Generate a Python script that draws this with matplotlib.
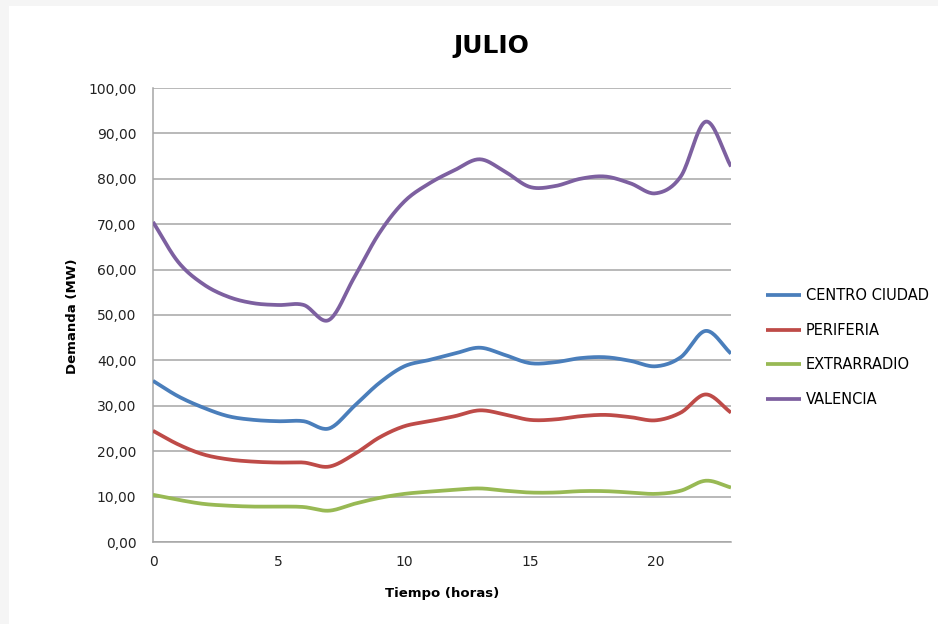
import numpy as np
import matplotlib
matplotlib.use("Agg")
import matplotlib.pyplot as plt
from matplotlib.patches import Rectangle
from matplotlib.ticker import FuncFormatter, MultipleLocator

plt.rcParams['font.family'] = ['DejaVu Sans']

hours = list(range(24))
centro = [35.5, 32.1, 29.6, 27.7, 26.9, 26.6, 26.6, 25.0, 29.9, 35.0, 38.7, 40.1,
          41.5, 42.8, 41.2, 39.4, 39.6, 40.5, 40.7, 39.9, 38.7, 40.7, 46.5, 41.5]
periferia = [24.5, 21.5, 19.3, 18.2, 17.7, 17.5, 17.5, 16.6, 19.3, 23.0, 25.5, 26.6,
             27.7, 29.0, 28.1, 26.9, 27.0, 27.7, 28.0, 27.5, 26.8, 28.5, 32.5, 28.5]
extrarradio = [10.4, 9.3, 8.4, 8.0, 7.8, 7.8, 7.7, 6.9, 8.4, 9.7, 10.6, 11.1,
               11.5, 11.8, 11.3, 10.9, 10.9, 11.2, 11.2, 10.9, 10.6, 11.3, 13.5, 12.0]
valencia = [70.5, 61.7, 56.8, 54.0, 52.6, 52.2, 52.2, 48.9, 58.2, 68.0, 75.0, 79.0,
            81.9, 84.3, 81.6, 78.2, 78.4, 80.0, 80.5, 79.0, 76.8, 80.5, 92.6, 82.7]

series_names = ["CENTRO CIUDAD", "PERIFERIA", "EXTRARRADIO", "VALENCIA"]
series_values = [centro, periferia, extrarradio, valencia]
colors = ["#4A7EBB", "#BE4B48", "#98B954", "#7D60A0"]

title = "JULIO"
xlabel = "Tiempo (horas)"
ylabel = "Demanda (MW)"


def smooth(x, y, n=20):
    """Catmull-Rom smoothing (like Excel smoothed lines)."""
    x = np.asarray(x, float)
    y = np.asarray(y, float)
    px = np.concatenate([[2 * x[0] - x[1]], x, [2 * x[-1] - x[-2]]])
    py = np.concatenate([[2 * y[0] - y[1]], y, [2 * y[-1] - y[-2]]])
    xs, ys = [], []
    t = np.linspace(0, 1, n, endpoint=False)
    for i in range(1, len(px) - 2):
        for p, out in ((px, xs), (py, ys)):
            p0, p1, p2, p3 = p[i - 1], p[i], p[i + 1], p[i + 2]
            v = 0.5 * ((2 * p1) + (-p0 + p2) * t + (2 * p0 - 5 * p1 + 4 * p2 - p3) * t ** 2
                       + (-p0 + 3 * p1 - 3 * p2 + p3) * t ** 3)
            out.extend(v)
    xs.append(x[-1])
    ys.append(y[-1])
    return np.array(xs), np.array(ys)


W, H = 938, 624
fig = plt.figure(figsize=(W / 100, H / 100), dpi=100, facecolor="#f5f5f5")
fig.patches.append(Rectangle((9 / W, 0), 1 - 9 / W, 1 - 6 / H, transform=fig.transFigure,
                             facecolor="white", edgecolor="none", zorder=-10))

ax = fig.add_axes([153 / W, 1 - 542 / H, 578 / W, 454 / H])
ax.set_facecolor("none")

for name, vals, c in zip(series_names, series_values, colors):
    sx, sy = smooth(hours, vals)
    ax.plot(sx, sy, color=c, lw=2.7, label=name, solid_capstyle="butt", zorder=3)

ax.set_xlim(0, 23)
ax.set_ylim(0, 100)
ax.xaxis.set_major_locator(MultipleLocator(5))
ax.yaxis.set_major_locator(MultipleLocator(10))
ax.yaxis.set_major_formatter(FuncFormatter(lambda v, p: f"{v:.2f}".replace(".", ",")))
ax.grid(axis="y", color="#a6a6a6", lw=1.1, zorder=1)
ax.set_axisbelow(True)
for s in ("top", "right"):
    ax.spines[s].set_visible(False)
for s in ("left", "bottom"):
    ax.spines[s].set_color("#a6a6a6")
    ax.spines[s].set_linewidth(1.1)
ax.tick_params(axis="y", length=0, pad=12, labelsize=10, labelcolor="#222222")
ax.tick_params(axis="x", length=0, pad=9, labelsize=10, labelcolor="#222222")

fig.text(491 / W, 1 - 46 / H, title, ha="center", va="center", fontsize=18, fontweight="bold")
fig.text(442 / W, 1 - 593 / H, xlabel, ha="center", va="center", fontsize=9.5, fontweight="bold")
fig.text(72 / W, 1 - 316 / H, ylabel, ha="center", va="center", fontsize=9.5,
         fontweight="bold", rotation=90)

fig.legend(loc="center left", bbox_to_anchor=(766 / W, 1 - 347.5 / H), frameon=False,
           fontsize=10.5, handlelength=2.4, handletextpad=0.35, labelspacing=1.35,
           borderpad=0, borderaxespad=0)

fig.savefig("out.png", dpi=100, facecolor=fig.get_facecolor())
